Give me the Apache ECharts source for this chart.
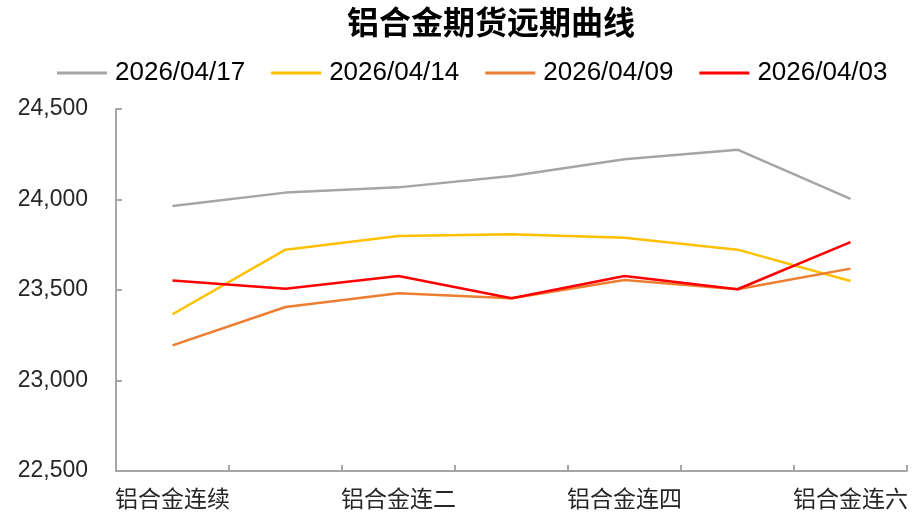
<!DOCTYPE html>
<html>
<head>
<meta charset="utf-8">
<script src="https://cdn.jsdelivr.net/npm/echarts@6/dist/echarts.min.js"></script>
<style>
  html, body { margin: 0; padding: 0; background: #fff; }
  #chart { width: 913px; height: 515px; }
</style>
</head>
<body>
<div id="chart"></div>
<script>
const categories = ['铝合金连续', '铝合金连一', '铝合金连二', '铝合金连三', '铝合金连四', '铝合金连五', '铝合金连六']
const seriesNames = ['2026/04/17', '2026/04/14', '2026/04/09', '2026/04/03']
const d0417 = [23964, 24038, 24067, 24130, 24222, 24275, 24003]
const d0414 = [23366, 23723, 23798, 23808, 23789, 23723, 23550]
const d0409 = [23194, 23406, 23482, 23454, 23555, 23504, 23618]
const d0403 = [23552, 23507, 23577, 23454, 23577, 23504, 23764]
const colors = ['#A5A5A5', '#FFC000', '#ED7D31', '#FF0000']

const font = '"Liberation Sans", Arial, "Noto Sans CJK SC", sans-serif'
const chart = echarts.init(document.getElementById('chart'), null, { renderer: 'canvas' })

function line(name, data) {
  return {
    name: name,
    type: 'line',
    data: data,
    symbol: 'none',
    lineStyle: { width: 2.5 }
  }
}

const option = {
  animation: false,
  color: colors,
  title: {
    text: '铝合金期货远期曲线',
    left: 347,
    top: 9,
    padding: 0,
    textStyle: { fontFamily: font, fontSize: 32, fontWeight: 'bold', color: '#000' }
  },
  legend: {
    data: seriesNames,
    left: 57,
    top: 60,
    padding: 0,
    icon: 'rect',
    itemWidth: 50,
    itemHeight: 3,
    itemGap: 26,
    textStyle: { fontFamily: font, fontSize: 26, color: '#000', padding: [0, 0, 0, 3] }
  },
  grid: {
    left: 116,
    right: 6,
    top: 109,
    bottom: 44
  },
  xAxis: {
    type: 'category',
    data: categories,
    axisLine: { lineStyle: { color: '#A6A6A6', width: 2 } },
    axisTick: { show: true, inside: true, length: 6, interval: 0, lineStyle: { color: '#A6A6A6', width: 2 } },
    axisLabel: { interval: 1, margin: 18, fontFamily: font, fontSize: 23, color: '#262626' }
  },
  yAxis: {
    type: 'value',
    min: 22500,
    max: 24500,
    interval: 500,
    splitLine: { show: false },
    axisLine: { show: true, lineStyle: { color: '#A6A6A6', width: 2 } },
    axisTick: { show: true, inside: true, length: 6, lineStyle: { color: '#A6A6A6', width: 2 } },
    axisLabel: {
      margin: 28,
      fontFamily: font,
      fontSize: 23,
      color: '#262626',
      formatter: v => v.toLocaleString('en-US')
    }
  },
  series: [
    line(seriesNames[0], d0417),
    line(seriesNames[1], d0414),
    line(seriesNames[2], d0409),
    line(seriesNames[3], d0403)
  ]
}
chart.setOption(option)
</script>
</body>
</html>
